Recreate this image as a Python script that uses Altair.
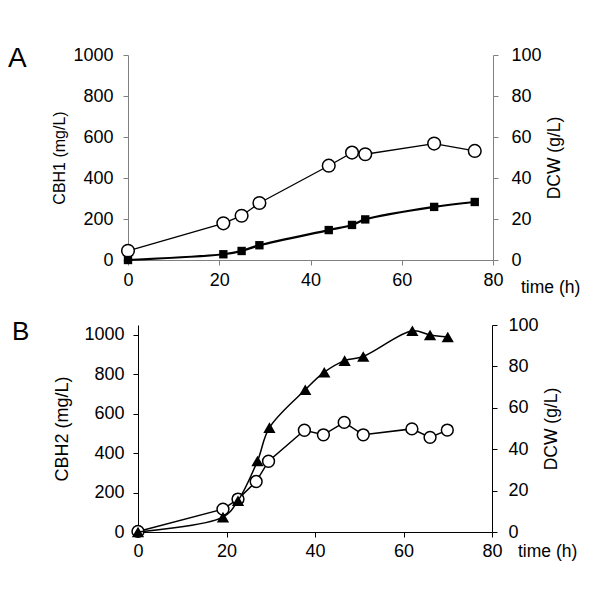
import altair as alt
import pandas as pd

FONT = "Liberation Sans"

x_ticks = [0, 20, 40, 60, 80]
left_ticks = [0, 200, 400, 600, 800, 1000]
right_ticks = [0, 20, 40, 60, 80, 100]

# Panel A
a_time = [0, 20.9, 24.9, 28.8, 44.0, 49.1, 52.0, 67.1, 76.0]
a_cbh1 = [45, 179, 216, 278, 460, 524, 516, 568, 532]
a_dcw = [0, 2.8, 4.4, 7.2, 14.6, 17.1, 19.8, 25.9, 28.3]

# Panel B
b_time_cbh2 = [0, 19.2, 22.6, 26.7, 29.5, 37.6, 41.9, 46.6, 50.9, 61.9, 66.0, 69.9]
b_cbh2 = [3, 116, 167, 256, 359, 516, 493, 556, 493, 523, 480, 517]
b_time_dcw = [0, 19.2, 22.6, 27.0, 29.7, 37.8, 42.1, 46.7, 50.9, 62.0, 66.0, 70.0]
b_dcw = [0, 7.2, 15.1, 34.3, 50.4, 68.7, 77.2, 82.8, 84.8, 97.2, 95.2, 94.2]

# layout of the single shared view (pixels, relative to the view origin)
W, H = 365, 477
A_X = [0, 365]
A_Y = [205, 0]
B_X = [10, 364]
B_Y = [477, 270]

GRAY = "#808080"


def x_axis(color, offset, label_pad):
    return alt.Axis(values=x_ticks, title=None, format="d", orient="bottom",
                    offset=offset, tickSize=5, labelPadding=label_pad,
                    labelFontSize=18, labelFont=FONT, labelColor="black",
                    domainColor=color, tickColor=color, grid=False,
                    labelFlush=False)


def y_axis(orient, title, color, offset, title_size, title_pad, label_pad):
    kw = {}
    if orient == "right":
        kw["titleAngle"] = 270
    return alt.Axis(orient=orient, values=left_ticks if orient == "left" else right_ticks,
                    title=title, format="d", offset=offset, titleFont=FONT,
                    titleFontSize=title_size, titleFontWeight="normal",
                    titleColor="black", titlePadding=title_pad, tickSize=5,
                    labelPadding=label_pad, labelFontSize=18, labelFont=FONT,
                    labelColor="black", domainColor=color, tickColor=color,
                    grid=False, **kw)


def series(t, v, xrange, yrange, ydomain, xaxis, yaxis, point_kw, line_w, interp):
    df = pd.DataFrame({"t": t, "v": v})
    base = alt.Chart(df).encode(
        x=alt.X("t:Q", scale=alt.Scale(domain=[0, 80], range=xrange, nice=False),
                axis=xaxis),
        y=alt.Y("v:Q", scale=alt.Scale(domain=ydomain, range=yrange, nice=False),
                axis=yaxis),
    )
    line_kw = {"color": "black", "strokeWidth": line_w}
    if interp:
        line_kw["interpolate"] = interp
    return alt.layer(base.mark_line(**line_kw), base.mark_point(**point_kw))


def open_circle(s):
    return dict(shape="circle", filled=True, fill="white", stroke="black",
                strokeWidth=1.5, size=s, opacity=1)


a_left = series(a_time, a_cbh1, A_X, A_Y, [0, 1000],
                x_axis(GRAY, -(H - 205), 6),
                y_axis("left", "CBH1 (mg/L)", GRAY, 0, 16, 5, 10),
                open_circle(160), 1.3, None)
a_right = series(a_time, a_dcw, A_X, A_Y, [0, 100], None,
                 y_axis("right", "DCW (g/L)", GRAY, 0, 17.5, 22, 13),
                 dict(shape="square", filled=True, color="black", size=70,
                      opacity=1), 2.2, "catmull-rom")
b_left = series(b_time_cbh2, b_cbh2, B_X, B_Y, [0, 1050],
                x_axis("black", 0, 5),
                y_axis("left", "CBH2 (mg/L)", "black", -10, 18, 12, 9),
                open_circle(140), 1.5, None)
b_right = series(b_time_dcw, b_dcw, B_X, B_Y, [0, 100], None,
                 y_axis("right", "DCW (g/L)", "black", -1, 17.5, 22, 11),
                 dict(shape="triangle-up", filled=True, color="black",
                      size=150, opacity=1), 1.5, "catmull-rom")

one = pd.DataFrame({"k": [0]})


def label(text, x, y, size, baseline="top"):
    return alt.Chart(one).mark_text(
        text=text, font=FONT, fontSize=size, align="left", baseline=baseline,
        color="black"
    ).encode(x=alt.value(x), y=alt.value(y))


texts = [
    label("A", -120, -10, 28),
    label("B", -116, 264, 26),
    label("time (h)", 393, 233, 17.5, "middle"),
    label("time (h)", 390, 497, 17.5, "middle"),
]

chart = alt.layer(a_left, a_right, b_left, b_right, *texts).resolve_scale(
    x="independent", y="independent"
).properties(
    width=W, height=H,
    padding={"left": 0, "top": 37, "right": 0, "bottom": 0},
).configure_view(strokeOpacity=0)

chart.save("out.html", embed_options={"renderer": "svg", "actions": False})
